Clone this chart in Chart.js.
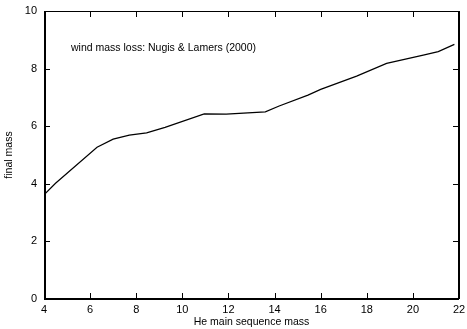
<!DOCTYPE html>
<html>
<head>
<meta charset="utf-8">
<script src="https://cdn.jsdelivr.net/npm/chart.js@4.4.1/dist/chart.umd.min.js"></script>
<style>
  html, body { margin: 0; padding: 0; background: #fff; }
  #wrap { width: 467px; height: 329px; }
</style>
</head>
<body>
<div id="wrap"><canvas id="massChart" width="467" height="329"></canvas></div>
<script>
// values
const heMass = [4.0, 4.5, 6.3, 7.0, 7.7, 8.45, 9.25, 10.95, 11.9, 13.6, 14.2, 15.45, 16.0, 17.56, 18.86, 20.45, 21.1, 21.8];
const finalMass = [3.62, 4.02, 5.27, 5.55, 5.69, 5.77, 5.96, 6.43, 6.42, 6.50, 6.70, 7.08, 7.28, 7.74, 8.18, 8.47, 8.59, 8.84];
const xTicks = [4, 6, 8, 10, 12, 14, 16, 18, 20, 22];
const yTicks = [0, 2, 4, 6, 8, 10];
const noteText = 'wind mass loss: Nugis & Lamers (2000)';

const fontFamily = '"Liberation Sans", Arial, sans-serif';

// no extra room for overhanging tick labels, the frame is fixed by layout padding
function noLabelPadding(s) {
  s.paddingTop = 0;
  s.paddingBottom = 0;
  s.paddingLeft = 0;
  s.paddingRight = 0;
}

// gnuplot style frame with inward ticks on all four sides + the note
const framePlugin = {
  id: 'frame',
  afterDraw(chart) {
    const ctx = chart.ctx;
    const a = chart.chartArea;
    const xs = chart.scales.x;
    const ys = chart.scales.y;
    const len = 6;
    ctx.save();
    ctx.fillStyle = '#000';
    // frame
    ctx.fillRect(a.left, a.top, a.right - a.left, 1);
    ctx.fillRect(a.left, a.bottom - 1, a.right - a.left, 2);
    ctx.fillRect(a.left, a.top, 2, a.bottom - a.top);
    ctx.fillRect(a.right - 1, a.top, 2, a.bottom - a.top);
    // ticks
    xTicks.forEach(function(v) {
      const px = Math.round(xs.getPixelForValue(v));
      ctx.fillRect(px, a.bottom - len, 1, len);
      ctx.fillRect(px, a.top, 1, len);
    });
    yTicks.forEach(function(v) {
      const py = Math.round(ys.getPixelForValue(v));
      ctx.fillRect(a.left, py, len, 1);
      ctx.fillRect(a.right - len, py, len, 1);
    });
    ctx.font = '10.5px ' + fontFamily;
    ctx.textBaseline = 'middle';
    ctx.fillText(noteText, a.left + 27, a.top + 37);
    ctx.restore();
  }
};

new Chart(document.getElementById('massChart').getContext('2d'), {
  type: 'line',
  data: {
    datasets: [{
      data: heMass.map(function(m, i) { return { x: m, y: finalMass[i] }; }),
      borderColor: '#000',
      borderWidth: 1.2,
      pointRadius: 0,
      tension: 0,
      fill: false
    }]
  },
  options: {
    responsive: false,
    animation: false,
    layout: { padding: { top: 11, right: 8, left: 0, bottom: 0 } },
    plugins: { legend: { display: false }, tooltip: { enabled: false } },
    scales: {
      x: {
        type: 'linear',
        min: 4, max: 22,
        afterBuildTicks: function(s) { s.ticks = xTicks.map(function(v) { return { value: v }; }); },
        afterFit: function(s) { s.height = 30; noLabelPadding(s); },
        grid: { display: false, drawTicks: false },
        border: { display: false },
        ticks: { color: '#000', padding: 4, maxRotation: 0, font: { family: fontFamily, size: 11 } },
        title: { display: true, text: 'He main sequence mass', color: '#000', padding: { top: 0, bottom: 1 }, font: { family: fontFamily, size: 10.5 } }
      },
      y: {
        type: 'linear',
        min: 0, max: 10,
        afterBuildTicks: function(s) { s.ticks = yTicks.map(function(v) { return { value: v }; }); },
        afterFit: function(s) { s.width = 44; noLabelPadding(s); },
        grid: { display: false, drawTicks: false },
        border: { display: false },
        ticks: { color: '#000', padding: 7, font: { family: fontFamily, size: 11 } },
        title: { display: true, text: 'final mass', color: '#000', padding: { top: 3, bottom: 0 }, font: { family: fontFamily, size: 10.5 } }
      }
    }
  },
  plugins: [framePlugin]
});
</script>
</body>
</html>
